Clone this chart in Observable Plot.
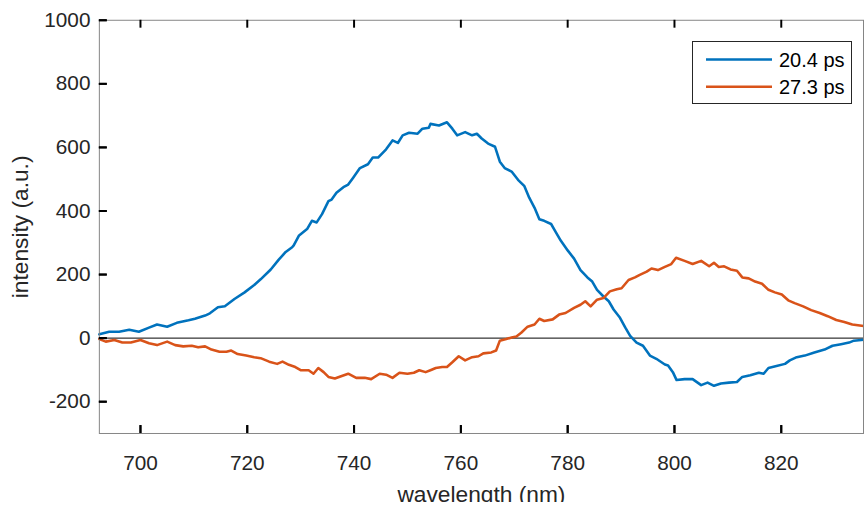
<!DOCTYPE html>
<html>
<head>
<meta charset="utf-8">
<script src="https://cdn.jsdelivr.net/npm/d3@7"></script>
<script src="https://cdn.jsdelivr.net/npm/@observablehq/plot@0.6"></script>
<style>
  html, body { margin: 0; padding: 0; background: #fff; overflow: hidden; }
  #chart { position: relative; width: 864px; height: 508px; overflow: hidden; }
  #chart > svg { display: block; }
  #legend { position: absolute; left: 692px; top: 41px; width: 161px; height: 64px; }
</style>
</head>
<body>
<div id="chart"></div>
<script>
// Transient spectra: intensity vs wavelength at two delays.
const seriesNames = ["20.4 ps", "27.3 ps"];
const seriesColors = ["#0072BD", "#D95319"];

const wavelength204 = [
  692.3, 694.15, 696.0, 697.9, 699.7, 701.6, 703.1, 705.0, 706.8, 709.0,
  710.2, 712.1, 713.0, 714.5, 715.8, 717.6, 719.5, 721.3, 722.5, 724.4,
  725.9, 727.2, 728.4, 728.7, 729.7, 731.2, 732.1, 733.0, 734.0, 735.2,
  735.8, 736.7, 738.0, 738.9, 739.8, 741.1, 742.6, 743.5, 744.5, 746.0,
  747.2, 748.2, 749.1, 750.3, 751.9, 752.8, 754.0, 754.3, 755.9, 757.4,
  758.4, 759.3, 760.8, 762.1, 763.0, 763.9, 765.1, 766.4, 767.3, 768.2,
  769.5, 770.7, 771.9, 772.8, 773.8, 774.7, 775.6, 776.9, 777.8, 778.7,
  780.0, 781.2, 782.4, 783.7, 784.6, 785.5, 786.7, 787.7, 788.6, 789.8,
  790.8, 791.7, 792.9, 794.1, 795.4, 796.6, 798.2, 798.8, 799.7, 800.4,
  801.9, 803.4, 805.0, 806.2, 807.4, 808.7, 810.2, 811.7, 812.7, 814.2,
  815.8, 816.7, 817.6, 819.1, 820.7, 821.6, 822.9, 824.4, 826.2, 828.1,
  829.6, 831.2, 832.7, 833.6, 835.4
];
const intensity204 = [
  12, 20, 20, 26, 20, 33, 43, 36, 48, 56,
  61, 71, 78, 97, 100, 123, 144, 167, 185, 216,
  247, 271, 286, 292, 323, 343, 369, 364, 390, 431,
  436, 457, 475, 483, 504, 535, 547, 568, 568, 594,
  622, 614, 638, 646, 643, 659, 662, 674, 669, 679,
  659, 638, 648, 638, 643, 628, 612, 602, 555, 535,
  524, 498, 478, 442, 410, 374, 369, 359, 333, 307,
  276, 250, 214, 191, 178, 152, 131, 116, 90, 64,
  33, 7, -14, -24, -55, -65, -83, -86, -107, -132,
  -129, -129, -148, -140, -150, -143, -140, -138, -122, -117,
  -109, -112, -94, -88, -81, -70, -60, -55, -45, -36,
  -24, -19, -14, -8, -5
];

const wavelength273 = [
  692.3, 693.5, 695.1, 696.6, 698.2, 700.0, 701.6, 703.1, 705.0, 706.5,
  708.0, 709.6, 710.8, 712.1, 713.3, 714.8, 716.1, 717.0, 718.2, 719.8,
  721.3, 722.5, 724.1, 725.6, 726.6, 727.8, 729.0, 730.0, 731.5, 732.4,
  733.3, 734.3, 735.2, 736.4, 737.7, 738.9, 740.4, 742.0, 743.2, 744.8,
  746.0, 747.2, 748.5, 750.0, 751.2, 752.2, 753.4, 754.3, 755.3, 756.5,
  757.4, 758.4, 759.6, 760.8, 762.1, 763.3, 764.2, 765.7, 766.6, 767.3,
  768.5, 769.5, 770.4, 771.3, 772.5, 773.8, 774.7, 775.6, 777.2, 778.4,
  779.6, 781.2, 782.4, 783.3, 784.3, 785.5, 786.7, 787.9, 789.2, 790.1,
  791.4, 792.6, 793.5, 794.8, 795.7, 796.9, 798.2, 799.4, 800.3, 801.9,
  803.4, 805.0, 806.5, 807.4, 808.3, 809.3, 810.5, 811.7, 812.7, 813.9,
  815.1, 816.4, 817.6, 818.8, 820.1, 821.3, 822.5, 824.1, 825.6, 827.2,
  828.7, 830.3, 831.8, 833.3, 835.4
];
const intensity273 = [
  -3, -11, -6, -14, -14, -6, -16, -22, -11, -22,
  -26, -24, -29, -26, -36, -43, -43, -39, -50, -55,
  -60, -63, -74, -81, -74, -84, -91, -101, -101, -112,
  -94, -107, -122, -127, -119, -112, -125, -125, -129, -112,
  -115, -125, -109, -112, -109, -101, -107, -101, -94, -91,
  -91, -76, -57, -70, -60, -57, -48, -45, -39, -8,
  -3, 2, 5, 17, 36, 43, 61, 54, 59, 74,
  79, 95, 105, 116, 100, 121, 126, 147, 154, 157,
  183, 191, 199, 209, 219, 214, 224, 233, 253, 243,
  233, 243, 226, 237, 224, 226, 216, 212, 191, 188,
  178, 171, 152, 144, 137, 119, 110, 100, 88, 79,
  69, 57, 51, 43, 38
];

const xTicks = [700, 720, 740, 760, 780, 800, 820];
const yTicks = [-200, 0, 200, 400, 600, 800, 1000];
const xLabel = "wavelength (nm)";
const yLabel = "intensity (a.u.)";

const rows204 = wavelength204.map((w, i) => ({w, v: intensity204[i]}));
const rows273 = wavelength273.map((w, i) => ({w, v: intensity273[i]}));

const font = "'Liberation Sans', Arial, Helvetica, sans-serif";
const ink = "#262626";
const fmt = d => String(d);

// frame size in pixels, used to turn tick length into insets
const W = 874, H = 508, ML = 100, MR = 1, MT = 20, MB = 70;
const frameW = W - ML - MR, frameH = H - MT - MB;
const tickLen = 8;

const plot = Plot.plot({
  width: W,
  height: H,
  marginLeft: ML,
  marginRight: MR,
  marginTop: MT,
  marginBottom: MB,
  style: {fontFamily: font, fontSize: "21px"},
  x: {domain: [692.3, 835.4]},
  y: {domain: [-300, 1000]},
  marks: [
    Plot.ruleY([0], {stroke: "#000", strokeWidth: 1}),
    Plot.line(rows204, {x: "w", y: "v", stroke: seriesColors[0], strokeWidth: 2.6}),
    Plot.line(rows273, {x: "w", y: "v", stroke: seriesColors[1], strokeWidth: 2.6}),
    Plot.frame({stroke: "#858585", strokeWidth: 1}),
    // inward tick marks on bottom, top and left
    Plot.tickX(xTicks, {x: d => d, insetTop: frameH - tickLen, stroke: "#000", strokeWidth: 2}),
    Plot.tickX(xTicks, {x: d => d, insetBottom: frameH - tickLen, stroke: "#000", strokeWidth: 2}),
    Plot.tickY(yTicks, {y: d => d, insetRight: frameW - tickLen, stroke: "#000", strokeWidth: 2}),
    Plot.axisX({anchor: "bottom", ticks: xTicks, tickSize: tickLen, dy: -tickLen, tickFormat: () => "", stroke: "#000", strokeWidth: 2, label: null}),
    Plot.axisY({anchor: "left", ticks: yTicks, tickSize: tickLen, dx: tickLen, tickFormat: () => "", stroke: "#000", strokeWidth: 2, label: null}),
    // tick labels
    Plot.axisX({anchor: "bottom", ticks: xTicks, tickFormat: fmt, tickSize: 0, tickPadding: 22, fill: ink, label: null}),
    Plot.axisY({anchor: "left", ticks: yTicks, tickFormat: fmt, tickSize: 0, tickPadding: 9, fill: ink, label: null}),
    Plot.text([xLabel], {frameAnchor: "bottom", dy: 53, lineAnchor: "top", textAnchor: "middle", fontSize: 23, fill: ink}),
    Plot.text([yLabel], {frameAnchor: "left", dx: -80, rotate: -90, textAnchor: "middle", lineAnchor: "middle", fontSize: 23, fill: ink})
  ]
});

const chart = document.getElementById("chart");
chart.appendChild(plot);

// Legend box in the upper right of the axes
const legend = d3.select(chart).append("svg")
  .attr("id", "legend")
  .attr("width", 161).attr("height", 64)
  .style("font-family", font);
legend.append("rect")
  .attr("x", 0.5).attr("y", 0.5).attr("width", 159).attr("height", 62)
  .attr("fill", "#fff").attr("stroke", ink).attr("stroke-width", 1);
seriesNames.forEach((name, i) => {
  const cy = 18.5 + i * 27.3;
  legend.append("line")
    .attr("x1", 14).attr("x2", 80).attr("y1", cy).attr("y2", cy)
    .attr("stroke", seriesColors[i]).attr("stroke-width", 2.6);
  legend.append("text")
    .attr("x", 87).attr("y", cy).attr("dy", "0.35em")
    .attr("font-size", 20).attr("fill", "#000").text(name);
});
</script>
</body>
</html>
